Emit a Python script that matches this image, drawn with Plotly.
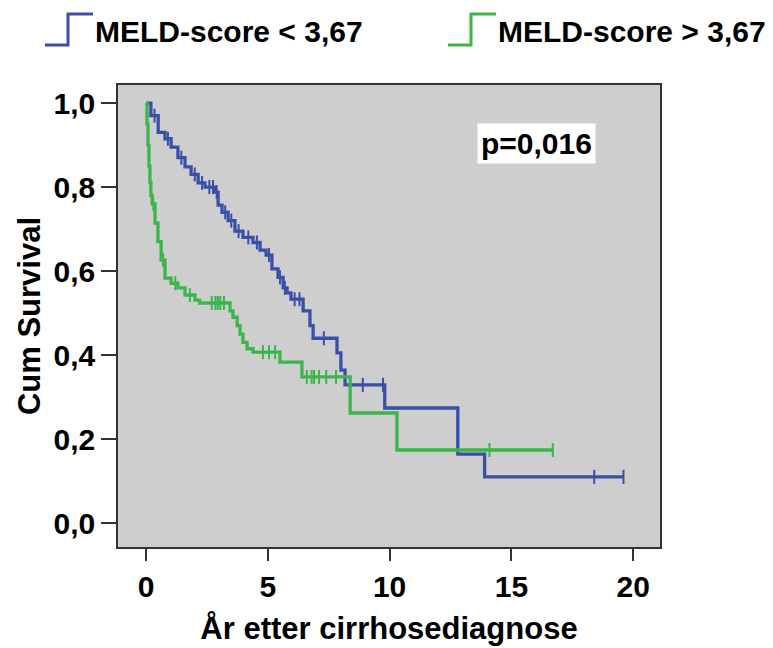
import numpy as np
import plotly.graph_objects as go

# ---- data ----
blue_times = [0, 0.2, 0.5, 0.78, 1.03, 1.31, 1.6, 1.85, 2.14, 2.42, 2.83, 2.96, 3.12, 3.37, 3.65,
              3.98, 4.39, 4.68, 4.93, 5.17, 5.42, 5.63, 5.79, 5.95, 6.45, 6.73, 6.86, 7.84, 8.0,
              8.17, 9.8, 12.8, 13.9]
blue_surv = [1.0, 0.97, 0.93, 0.915, 0.895, 0.87, 0.848, 0.83, 0.81, 0.80, 0.788, 0.757, 0.74, 0.72,
             0.695, 0.68, 0.668, 0.65, 0.638, 0.605, 0.585, 0.56, 0.548, 0.533, 0.505, 0.47, 0.44,
             0.405, 0.364, 0.329, 0.274, 0.164, 0.11]
blue_end = 19.6
blue_censor = [0.35, 0.9, 1.45, 2.0, 2.3, 2.6, 2.75, 2.9, 3.25, 3.5, 3.8, 4.2, 4.55, 5.05, 5.5,
               5.7, 6.1, 6.3, 7.3, 8.9, 9.73, 18.4, 19.6]

green_times = [0, 0.04, 0.08, 0.12, 0.16, 0.2, 0.25, 0.37, 0.49, 0.62, 0.78, 1.03, 1.31, 1.6, 2.01,
               2.2, 3.45, 3.57, 3.74, 3.86, 3.98, 4.15, 4.39, 5.5, 6.4, 8.38, 10.3]
green_surv = [1.0, 0.95, 0.9, 0.85, 0.81, 0.78, 0.76, 0.714, 0.67, 0.626, 0.583, 0.571, 0.56, 0.543,
              0.531, 0.524, 0.505, 0.49, 0.47, 0.45, 0.43, 0.415, 0.407, 0.383, 0.348, 0.262, 0.174]
green_end = 16.7
green_censor = [0.3, 0.7, 1.2, 1.8, 2.7, 2.85, 2.95, 3.05, 3.2, 4.8, 5.05, 5.3, 6.6, 6.8, 6.9,
                7.1, 7.4, 7.8, 14.1, 16.7]

x_ticks = [0, 5, 10, 15, 20]
y_ticks = [0.0, 0.2, 0.4, 0.6, 0.8, 1.0]
y_tick_labels = ["0,0", "0,2", "0,4", "0,6", "0,8", "1,0"]

legend_labels = ["MELD-score < 3,67", "MELD-score > 3,67"]
p_text = "p=0,016"

BLUE = "#3a50a8"
GREEN = "#3bb64a"
FONT = "Liberation Sans, Arial, sans-serif"

def step_value(times, surv, t):
    idx = np.searchsorted(np.array(times), t, side="right") - 1
    return np.array(surv)[idx]

fig = go.Figure()
for times, surv, end, cens, col in [
    (blue_times, blue_surv, blue_end, blue_censor, BLUE),
    (green_times, green_surv, green_end, green_censor, GREEN),
]:
    xs = list(times) + [end]
    ys = list(surv) + [surv[-1]]
    fig.add_trace(go.Scatter(x=xs, y=ys, mode="lines", line=dict(color=col, width=3.3, shape="hv"),
                             showlegend=False, hoverinfo="skip"))
    fig.add_trace(go.Scatter(x=cens, y=step_value(times, surv, cens), mode="markers",
                             marker=dict(symbol="line-ns", size=10, line=dict(color=col, width=2)),
                             showlegend=False, hoverinfo="skip"))

# plot area geometry in pixels
W, H = 773, 648
L, R, T, B = 118, 660, 85, 547

def px(xp):
    return (xp - L) / (R - L)

def py(yp):
    return (B - yp) / (B - T)

# custom step-shaped legend
for (x0, col, label) in [(45, BLUE, legend_labels[0]), (448, GREEN, legend_labels[1])]:
    path = "M {a},{b} L {c},{b} L {c},{d} L {e},{d}".format(
        a=px(x0), b=py(45), c=px(x0 + 23), d=py(14), e=px(x0 + 48))
    fig.add_shape(type="path", path=path, xref="paper", yref="paper",
                  line=dict(color=col, width=3))
    fig.add_annotation(x=px(x0 + 48), y=py(31), xref="paper", yref="paper", text="<b>%s</b>" % label,
                       showarrow=False, xanchor="left", yanchor="middle",
                       font=dict(family=FONT, size=30, color="black"))

fig.add_annotation(x=px(536), y=py(143), xref="paper", yref="paper", text="<b>%s</b>" % p_text,
                   showarrow=False, xanchor="center", yanchor="middle", bgcolor="white",
                   borderpad=3, font=dict(family=FONT, size=30, color="black"))

axis_common = dict(showgrid=False, zeroline=False, showline=True, linecolor="#333333", linewidth=1.5,
                   mirror=True, ticks="outside", tickcolor="#333333", tickwidth=1.5, automargin=False,
                   tickfont=dict(family=FONT, size=30, color="black"))

fig.update_xaxes(range=[-1.15, 21.1], tickvals=x_ticks, ticktext=["<b>%d</b>" % v for v in x_ticks],
                 ticklen=12,
                 title=dict(text="<b>År etter cirrhosediagnose</b>", font=dict(family=FONT, size=31, color="black"),
                            standoff=16), **axis_common)
fig.update_yaxes(range=[-0.057, 1.043], tickvals=y_ticks, ticktext=["<b>%s</b>" % s for s in y_tick_labels],
                 ticklen=15,
                 title=dict(text="<b>Cum Survival</b>", font=dict(family=FONT, size=31, color="black"),
                            standoff=4), **axis_common)

fig.update_layout(width=W, height=H, margin=dict(l=L, r=W - R, t=T, b=H - B),
                  plot_bgcolor="#cecece", paper_bgcolor="white", showlegend=False)

fig.write_html("out.html")
